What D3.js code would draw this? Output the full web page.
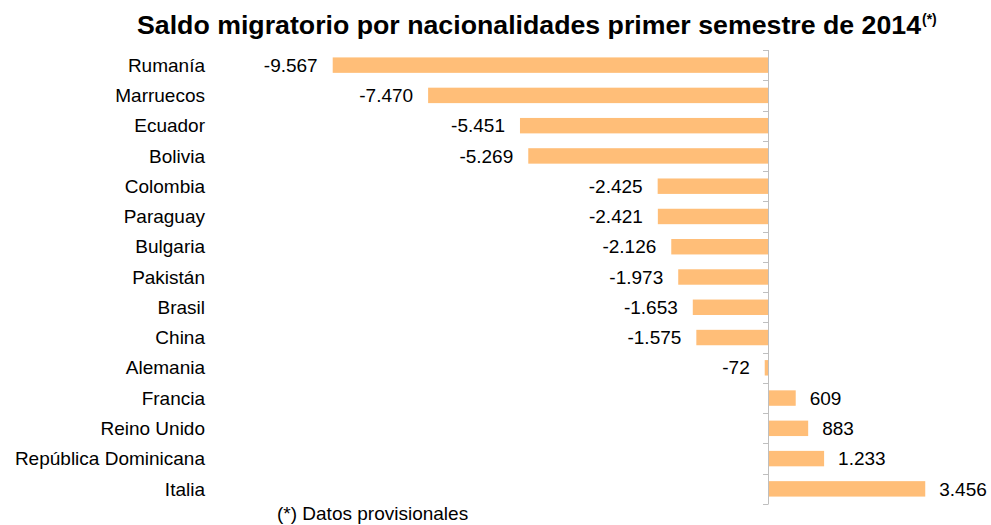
<!DOCTYPE html>
<html>
<head>
<meta charset="utf-8">
<script src="https://cdn.jsdelivr.net/npm/d3@7"></script>
<style>
  body { margin: 0; background: #fff; }
  svg text { font-family: Arial, "Liberation Sans", sans-serif; fill: #000; }
</style>
</head>
<body>
<div id="chart"></div>
<script>
// Data
const countries = ["Rumanía", "Marruecos", "Ecuador", "Bolivia", "Colombia", "Paraguay", "Bulgaria",
    "Pakistán", "Brasil", "China", "Alemania", "Francia", "Reino Unido", "República Dominicana", "Italia"];
const saldo = [-9567, -7470, -5451, -5269, -2425, -2421, -2126, -1973, -1653, -1575, -72, 609, 883, 1233, 3456];

const titleText = "Saldo migratorio por nacionalidades primer semestre de 2014";
const noteText = "(*) Datos provisionales";

const width = 991, height = 525;

const svg = d3.select("#chart").append("svg")
    .attr("width", width)
    .attr("height", height);

const data = countries.map((c, i) => ({ name: c, value: saldo[i] }));

const x = d3.scaleLinear().domain([-10000, 4000]).range([313, 950]);
const y = d3.scaleBand().domain(countries).range([50, 504])
    .paddingInner(0.49).paddingOuter(0.245);

// Spanish style: dot thousands separator, plain hyphen minus
const fmt = v => d3.format(",")(v).replace(/,/g, ".").replace("\u2212", "-");

// Title
const title = svg.append("text")
    .attr("x", 137)
    .attr("y", 34)
    .attr("font-size", 25)
    .attr("font-weight", "bold");
title.append("tspan").attr("textLength", 784).attr("lengthAdjust", "spacingAndGlyphs").text(titleText);
title.append("tspan").attr("font-size", 14).attr("dy", -10).attr("dx", 1).text("(*)");

// Bars
svg.append("g").selectAll("rect")
    .data(data)
    .enter().append("rect")
    .attr("x", d => x(Math.min(0, d.value)))
    .attr("y", d => y(d.name))
    .attr("width", d => Math.abs(x(d.value) - x(0)))
    .attr("height", y.bandwidth())
    .attr("fill", "#ffbe78");

// Axis line with ticks at band boundaries
const step = y.step();
const boundaries = d3.range(countries.length + 1).map(i => y(countries[0]) - (step - y.bandwidth()) / 2 + i * step);
const axis = svg.append("g").attr("stroke", "#bfbfbf").attr("stroke-width", 1);
axis.append("line")
    .attr("x1", Math.round(x(0)) + 0.5).attr("x2", Math.round(x(0)) + 0.5)
    .attr("y1", boundaries[0]).attr("y2", boundaries[boundaries.length - 1]);
axis.selectAll("line.tick")
    .data(boundaries)
    .enter().append("line")
    .attr("class", "tick")
    .attr("x1", Math.round(x(0)) - 5).attr("x2", Math.round(x(0)) + 0.5)
    .attr("y1", d => Math.round(d) + 0.5).attr("y2", d => Math.round(d) + 0.5);

// Category labels
svg.append("g").selectAll("text")
    .data(data)
    .enter().append("text")
    .attr("x", 205)
    .attr("y", d => y(d.name) + y.bandwidth() / 2)
    .attr("dy", "0.35em")
    .attr("text-anchor", "end")
    .attr("font-size", 19)
    .text(d => d.name);

// Value labels
svg.append("g").selectAll("text")
    .data(data)
    .enter().append("text")
    .attr("x", d => d.value < 0 ? x(d.value) - 15 : x(d.value) + 14)
    .attr("y", d => y(d.name) + y.bandwidth() / 2)
    .attr("dy", "0.35em")
    .attr("text-anchor", d => d.value < 0 ? "end" : "start")
    .attr("font-size", 19)
    .text(d => fmt(d.value));

// Footnote
svg.append("text")
    .attr("x", 277)
    .attr("y", 520)
    .attr("font-size", 19)
    .text(noteText);
</script>
</body>
</html>
